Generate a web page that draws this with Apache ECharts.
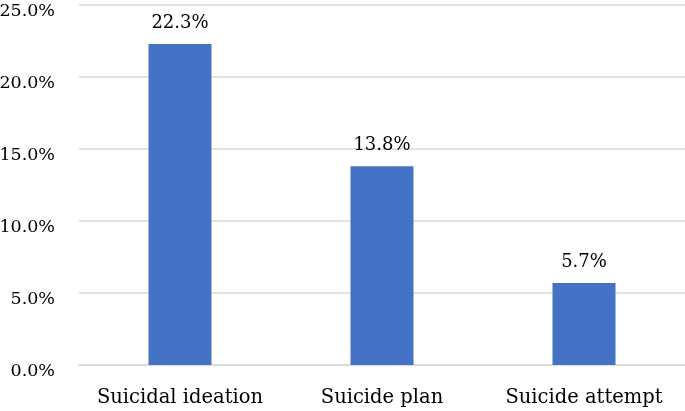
<!DOCTYPE html>
<html><head><meta charset="utf-8">
<script src="https://cdn.jsdelivr.net/npm/echarts@6/dist/echarts.min.js"></script>
<style>html,body{margin:0;padding:0;background:#fff}#c{width:685px;height:411px}</style>
</head><body><div id="c"></div>
<script>
const categories = ['Suicidal ideation', 'Suicide plan', 'Suicide attempt'];
const values = [22.3, 13.8, 5.7];
const yTicks = [0, 5, 10, 15, 20, 25];

const font = 'DejaVu Serif';
const chart = echarts.init(document.getElementById('c'));
chart.setOption({
  animation: false,
  grid: { left: 79, right: 0, top: 5, bottom: 46, containLabel: false, outerBoundsMode: 'none' },
  xAxis: {
    type: 'category', data: categories,
    axisLine: { lineStyle: { color: '#d9d9d9', width: 1.5 } },
    axisTick: { show: false },
    axisLabel: { interval: 0, hideOverlap: false, fontFamily: font, fontSize: 19.5, color: '#000', margin: 23 }
  },
  yAxis: {
    type: 'value', min: yTicks[0], max: yTicks[yTicks.length - 1], interval: 5,
    axisLine: { show: false }, axisTick: { show: false },
    splitLine: { lineStyle: { color: '#d9d9d9', width: 1.5 } },
    axisLabel: { fontFamily: font, fontSize: 17.5, color: '#000', margin: 24,
      verticalAlign: 'top', lineHeight: 13,
      formatter: v => v.toFixed(1) + '%' }
  },
  series: [{
    type: 'bar', data: values, barWidth: 63,
    itemStyle: { color: '#4472C4' },
    label: { show: true, position: 'top', distance: 12, fontFamily: font, fontSize: 18, color: '#000',
      formatter: p => p.value.toFixed(1) + '%' }
  }]
});
</script></body></html>
